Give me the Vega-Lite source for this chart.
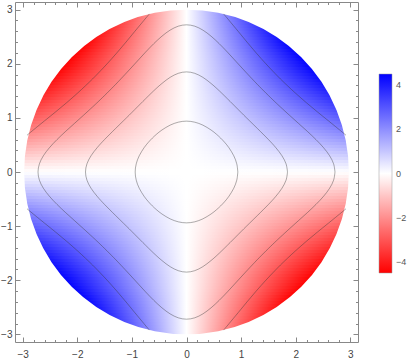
{
"$schema":"https://vega.github.io/schema/vega-lite/v6.json",
"width":343,"height":340,
"autosize":{"type":"none"},
"padding":{"left":15,"top":2,"right":59,"bottom":21},
"background":"white",
"config":{"view":{"stroke":null},"axis":{"domainColor":"#888888","tickColor":"#888888","labelColor":"#444444","labelFont":"Liberation Sans","labelFontSize":10,"grid":false,"labelOverlap":false,"labelFlush":false,"zindex":2,"domainWidth":1,"tickWidth":1}},
"datasets":{
"mask":[{"t":1,"ri":3,"ro":4.7}],
"legendvals":[{"v":-4.5},{"v":4.5}],
"q1":[
{"a":0,"b":0.05544,"e":3,"v":0.0832},{"a":0.05544,"b":0.11088,"e":2.99949,"v":0.2494},{"a":0.11088,"b":0.16632,"e":2.99795,"v":0.4155},{"a":0.16632,"b":0.22176,"e":2.99539,"v":0.5812},{"a":0.22176,"b":0.2772,"e":2.99179,"v":0.7464},{"a":0.2772,"b":0.33264,"e":2.98717,"v":0.9109},{"a":0.33264,"b":0.38808,"e":2.9815,"v":1.0744},{"a":0.38808,"b":0.44352,"e":2.97479,"v":1.2369},{"a":0.44352,"b":0.49896,"e":2.96703,"v":1.3982},{"a":0.49896,"b":0.5544,"e":2.95822,"v":1.558},{"a":0.5544,"b":0.60984,"e":2.94833,"v":1.7163},{"a":0.60984,"b":0.66528,"e":2.93736,"v":1.8727},{"a":0.66528,"b":0.72072,"e":2.9253,"v":2.0272},{"a":0.72072,"b":0.77616,"e":2.91214,"v":2.1796},{"a":0.77616,"b":0.8316,"e":2.89786,"v":2.3295},{"a":0.8316,"b":0.88704,"e":2.88244,"v":2.477},{"a":0.88704,"b":0.94248,"e":2.86586,"v":2.6216},{"a":0.94248,"b":0.99792,"e":2.84811,"v":2.7632},{"a":0.99792,"b":1.05336,"e":2.82916,"v":2.9017},{"a":1.05336,"b":1.1088,"e":2.80899,"v":3.0368},{"a":1.1088,"b":1.16424,"e":2.78757,"v":3.1681},{"a":1.16424,"b":1.21968,"e":2.76488,"v":3.2956},{"a":1.21968,"b":1.27512,"e":2.74087,"v":3.419},{"a":1.27512,"b":1.33056,"e":2.71553,"v":3.5379},{"a":1.33056,"b":1.386,"e":2.68879,"v":3.6521},{"a":1.386,"b":1.44144,"e":2.66064,"v":3.7614},{"a":1.44144,"b":1.49688,"e":2.63102,"v":3.8654},{"a":1.49688,"b":1.55232,"e":2.59987,"v":3.9638},{"a":1.55232,"b":1.60776,"e":2.56716,"v":4.0562},{"a":1.60776,"b":1.6632,"e":2.53281,"v":4.1424},{"a":1.6632,"b":1.71864,"e":2.49675,"v":4.2218},{"a":1.71864,"b":1.77408,"e":2.45892,"v":4.2942},{"a":1.77408,"b":1.82952,"e":2.41922,"v":4.359},{"a":1.82952,"b":1.88496,"e":2.37757,"v":4.4157},{"a":1.88496,"b":1.9404,"e":2.33386,"v":4.4639},{"a":1.9404,"b":1.99584,"e":2.28798,"v":4.503},{"a":1.99584,"b":2.05128,"e":2.23978,"v":4.5323},{"a":2.05128,"b":2.10672,"e":2.18912,"v":4.5512},{"a":2.10672,"b":2.16216,"e":2.13582,"v":4.5588},{"a":2.16216,"b":2.2176,"e":2.07968,"v":4.5543},{"a":2.2176,"b":2.27304,"e":2.02046,"v":4.5366},{"a":2.27304,"b":2.32848,"e":1.95788,"v":4.5046},{"a":2.32848,"b":2.38392,"e":1.89161,"v":4.457},{"a":2.38392,"b":2.43936,"e":1.82124,"v":4.3922},{"a":2.43936,"b":2.4948,"e":1.74629,"v":4.3082},{"a":2.4948,"b":2.55024,"e":1.66613,"v":4.2028},{"a":2.55024,"b":2.60568,"e":1.57996,"v":4.0731},{"a":2.60568,"b":2.66112,"e":1.48675,"v":3.9152},{"a":2.66112,"b":2.71656,"e":1.38508,"v":3.7243},{"a":2.71656,"b":2.772,"e":1.27291,"v":3.4932},{"a":2.772,"b":2.82744,"e":1.14718,"v":3.2118},{"a":2.82744,"b":2.88288,"e":1.00279,"v":2.8631},{"a":2.88288,"b":2.93832,"e":0.83006,"v":2.416},{"a":2.93832,"b":2.99376,"e":0.60521,"v":1.7951},{"a":2.99376,"b":3.0492,"e":0.19339,"v":0.5843}
],
"q2":[
{"a":0,"b":0.05544,"e":-3,"v":0.0832},{"a":0.05544,"b":0.11088,"e":-2.99949,"v":0.2494},{"a":0.11088,"b":0.16632,"e":-2.99795,"v":0.4155},{"a":0.16632,"b":0.22176,"e":-2.99539,"v":0.5812},{"a":0.22176,"b":0.2772,"e":-2.99179,"v":0.7464},{"a":0.2772,"b":0.33264,"e":-2.98717,"v":0.9109},{"a":0.33264,"b":0.38808,"e":-2.9815,"v":1.0744},{"a":0.38808,"b":0.44352,"e":-2.97479,"v":1.2369},{"a":0.44352,"b":0.49896,"e":-2.96703,"v":1.3982},{"a":0.49896,"b":0.5544,"e":-2.95822,"v":1.558},{"a":0.5544,"b":0.60984,"e":-2.94833,"v":1.7163},{"a":0.60984,"b":0.66528,"e":-2.93736,"v":1.8727},{"a":0.66528,"b":0.72072,"e":-2.9253,"v":2.0272},{"a":0.72072,"b":0.77616,"e":-2.91214,"v":2.1796},{"a":0.77616,"b":0.8316,"e":-2.89786,"v":2.3295},{"a":0.8316,"b":0.88704,"e":-2.88244,"v":2.477},{"a":0.88704,"b":0.94248,"e":-2.86586,"v":2.6216},{"a":0.94248,"b":0.99792,"e":-2.84811,"v":2.7632},{"a":0.99792,"b":1.05336,"e":-2.82916,"v":2.9017},{"a":1.05336,"b":1.1088,"e":-2.80899,"v":3.0368},{"a":1.1088,"b":1.16424,"e":-2.78757,"v":3.1681},{"a":1.16424,"b":1.21968,"e":-2.76488,"v":3.2956},{"a":1.21968,"b":1.27512,"e":-2.74087,"v":3.419},{"a":1.27512,"b":1.33056,"e":-2.71553,"v":3.5379},{"a":1.33056,"b":1.386,"e":-2.68879,"v":3.6521},{"a":1.386,"b":1.44144,"e":-2.66064,"v":3.7614},{"a":1.44144,"b":1.49688,"e":-2.63102,"v":3.8654},{"a":1.49688,"b":1.55232,"e":-2.59987,"v":3.9638},{"a":1.55232,"b":1.60776,"e":-2.56716,"v":4.0562},{"a":1.60776,"b":1.6632,"e":-2.53281,"v":4.1424},{"a":1.6632,"b":1.71864,"e":-2.49675,"v":4.2218},{"a":1.71864,"b":1.77408,"e":-2.45892,"v":4.2942},{"a":1.77408,"b":1.82952,"e":-2.41922,"v":4.359},{"a":1.82952,"b":1.88496,"e":-2.37757,"v":4.4157},{"a":1.88496,"b":1.9404,"e":-2.33386,"v":4.4639},{"a":1.9404,"b":1.99584,"e":-2.28798,"v":4.503},{"a":1.99584,"b":2.05128,"e":-2.23978,"v":4.5323},{"a":2.05128,"b":2.10672,"e":-2.18912,"v":4.5512},{"a":2.10672,"b":2.16216,"e":-2.13582,"v":4.5588},{"a":2.16216,"b":2.2176,"e":-2.07968,"v":4.5543},{"a":2.2176,"b":2.27304,"e":-2.02046,"v":4.5366},{"a":2.27304,"b":2.32848,"e":-1.95788,"v":4.5046},{"a":2.32848,"b":2.38392,"e":-1.89161,"v":4.457},{"a":2.38392,"b":2.43936,"e":-1.82124,"v":4.3922},{"a":2.43936,"b":2.4948,"e":-1.74629,"v":4.3082},{"a":2.4948,"b":2.55024,"e":-1.66613,"v":4.2028},{"a":2.55024,"b":2.60568,"e":-1.57996,"v":4.0731},{"a":2.60568,"b":2.66112,"e":-1.48675,"v":3.9152},{"a":2.66112,"b":2.71656,"e":-1.38508,"v":3.7243},{"a":2.71656,"b":2.772,"e":-1.27291,"v":3.4932},{"a":2.772,"b":2.82744,"e":-1.14718,"v":3.2118},{"a":2.82744,"b":2.88288,"e":-1.00279,"v":2.8631},{"a":2.88288,"b":2.93832,"e":-0.83006,"v":2.416},{"a":2.93832,"b":2.99376,"e":-0.60521,"v":1.7951},{"a":2.99376,"b":3.0492,"e":-0.19339,"v":0.5843}
],
"q3":[
{"a":0,"b":-0.05544,"e":-3,"v":0.0832},{"a":-0.05544,"b":-0.11088,"e":-2.99949,"v":0.2494},{"a":-0.11088,"b":-0.16632,"e":-2.99795,"v":0.4155},{"a":-0.16632,"b":-0.22176,"e":-2.99539,"v":0.5812},{"a":-0.22176,"b":-0.2772,"e":-2.99179,"v":0.7464},{"a":-0.2772,"b":-0.33264,"e":-2.98717,"v":0.9109},{"a":-0.33264,"b":-0.38808,"e":-2.9815,"v":1.0744},{"a":-0.38808,"b":-0.44352,"e":-2.97479,"v":1.2369},{"a":-0.44352,"b":-0.49896,"e":-2.96703,"v":1.3982},{"a":-0.49896,"b":-0.5544,"e":-2.95822,"v":1.558},{"a":-0.5544,"b":-0.60984,"e":-2.94833,"v":1.7163},{"a":-0.60984,"b":-0.66528,"e":-2.93736,"v":1.8727},{"a":-0.66528,"b":-0.72072,"e":-2.9253,"v":2.0272},{"a":-0.72072,"b":-0.77616,"e":-2.91214,"v":2.1796},{"a":-0.77616,"b":-0.8316,"e":-2.89786,"v":2.3295},{"a":-0.8316,"b":-0.88704,"e":-2.88244,"v":2.477},{"a":-0.88704,"b":-0.94248,"e":-2.86586,"v":2.6216},{"a":-0.94248,"b":-0.99792,"e":-2.84811,"v":2.7632},{"a":-0.99792,"b":-1.05336,"e":-2.82916,"v":2.9017},{"a":-1.05336,"b":-1.1088,"e":-2.80899,"v":3.0368},{"a":-1.1088,"b":-1.16424,"e":-2.78757,"v":3.1681},{"a":-1.16424,"b":-1.21968,"e":-2.76488,"v":3.2956},{"a":-1.21968,"b":-1.27512,"e":-2.74087,"v":3.419},{"a":-1.27512,"b":-1.33056,"e":-2.71553,"v":3.5379},{"a":-1.33056,"b":-1.386,"e":-2.68879,"v":3.6521},{"a":-1.386,"b":-1.44144,"e":-2.66064,"v":3.7614},{"a":-1.44144,"b":-1.49688,"e":-2.63102,"v":3.8654},{"a":-1.49688,"b":-1.55232,"e":-2.59987,"v":3.9638},{"a":-1.55232,"b":-1.60776,"e":-2.56716,"v":4.0562},{"a":-1.60776,"b":-1.6632,"e":-2.53281,"v":4.1424},{"a":-1.6632,"b":-1.71864,"e":-2.49675,"v":4.2218},{"a":-1.71864,"b":-1.77408,"e":-2.45892,"v":4.2942},{"a":-1.77408,"b":-1.82952,"e":-2.41922,"v":4.359},{"a":-1.82952,"b":-1.88496,"e":-2.37757,"v":4.4157},{"a":-1.88496,"b":-1.9404,"e":-2.33386,"v":4.4639},{"a":-1.9404,"b":-1.99584,"e":-2.28798,"v":4.503},{"a":-1.99584,"b":-2.05128,"e":-2.23978,"v":4.5323},{"a":-2.05128,"b":-2.10672,"e":-2.18912,"v":4.5512},{"a":-2.10672,"b":-2.16216,"e":-2.13582,"v":4.5588},{"a":-2.16216,"b":-2.2176,"e":-2.07968,"v":4.5543},{"a":-2.2176,"b":-2.27304,"e":-2.02046,"v":4.5366},{"a":-2.27304,"b":-2.32848,"e":-1.95788,"v":4.5046},{"a":-2.32848,"b":-2.38392,"e":-1.89161,"v":4.457},{"a":-2.38392,"b":-2.43936,"e":-1.82124,"v":4.3922},{"a":-2.43936,"b":-2.4948,"e":-1.74629,"v":4.3082},{"a":-2.4948,"b":-2.55024,"e":-1.66613,"v":4.2028},{"a":-2.55024,"b":-2.60568,"e":-1.57996,"v":4.0731},{"a":-2.60568,"b":-2.66112,"e":-1.48675,"v":3.9152},{"a":-2.66112,"b":-2.71656,"e":-1.38508,"v":3.7243},{"a":-2.71656,"b":-2.772,"e":-1.27291,"v":3.4932},{"a":-2.772,"b":-2.82744,"e":-1.14718,"v":3.2118},{"a":-2.82744,"b":-2.88288,"e":-1.00279,"v":2.8631},{"a":-2.88288,"b":-2.93832,"e":-0.83006,"v":2.416},{"a":-2.93832,"b":-2.99376,"e":-0.60521,"v":1.7951},{"a":-2.99376,"b":-3.0492,"e":-0.19339,"v":0.5843}
],
"q4":[
{"a":0,"b":-0.05544,"e":3,"v":0.0832},{"a":-0.05544,"b":-0.11088,"e":2.99949,"v":0.2494},{"a":-0.11088,"b":-0.16632,"e":2.99795,"v":0.4155},{"a":-0.16632,"b":-0.22176,"e":2.99539,"v":0.5812},{"a":-0.22176,"b":-0.2772,"e":2.99179,"v":0.7464},{"a":-0.2772,"b":-0.33264,"e":2.98717,"v":0.9109},{"a":-0.33264,"b":-0.38808,"e":2.9815,"v":1.0744},{"a":-0.38808,"b":-0.44352,"e":2.97479,"v":1.2369},{"a":-0.44352,"b":-0.49896,"e":2.96703,"v":1.3982},{"a":-0.49896,"b":-0.5544,"e":2.95822,"v":1.558},{"a":-0.5544,"b":-0.60984,"e":2.94833,"v":1.7163},{"a":-0.60984,"b":-0.66528,"e":2.93736,"v":1.8727},{"a":-0.66528,"b":-0.72072,"e":2.9253,"v":2.0272},{"a":-0.72072,"b":-0.77616,"e":2.91214,"v":2.1796},{"a":-0.77616,"b":-0.8316,"e":2.89786,"v":2.3295},{"a":-0.8316,"b":-0.88704,"e":2.88244,"v":2.477},{"a":-0.88704,"b":-0.94248,"e":2.86586,"v":2.6216},{"a":-0.94248,"b":-0.99792,"e":2.84811,"v":2.7632},{"a":-0.99792,"b":-1.05336,"e":2.82916,"v":2.9017},{"a":-1.05336,"b":-1.1088,"e":2.80899,"v":3.0368},{"a":-1.1088,"b":-1.16424,"e":2.78757,"v":3.1681},{"a":-1.16424,"b":-1.21968,"e":2.76488,"v":3.2956},{"a":-1.21968,"b":-1.27512,"e":2.74087,"v":3.419},{"a":-1.27512,"b":-1.33056,"e":2.71553,"v":3.5379},{"a":-1.33056,"b":-1.386,"e":2.68879,"v":3.6521},{"a":-1.386,"b":-1.44144,"e":2.66064,"v":3.7614},{"a":-1.44144,"b":-1.49688,"e":2.63102,"v":3.8654},{"a":-1.49688,"b":-1.55232,"e":2.59987,"v":3.9638},{"a":-1.55232,"b":-1.60776,"e":2.56716,"v":4.0562},{"a":-1.60776,"b":-1.6632,"e":2.53281,"v":4.1424},{"a":-1.6632,"b":-1.71864,"e":2.49675,"v":4.2218},{"a":-1.71864,"b":-1.77408,"e":2.45892,"v":4.2942},{"a":-1.77408,"b":-1.82952,"e":2.41922,"v":4.359},{"a":-1.82952,"b":-1.88496,"e":2.37757,"v":4.4157},{"a":-1.88496,"b":-1.9404,"e":2.33386,"v":4.4639},{"a":-1.9404,"b":-1.99584,"e":2.28798,"v":4.503},{"a":-1.99584,"b":-2.05128,"e":2.23978,"v":4.5323},{"a":-2.05128,"b":-2.10672,"e":2.18912,"v":4.5512},{"a":-2.10672,"b":-2.16216,"e":2.13582,"v":4.5588},{"a":-2.16216,"b":-2.2176,"e":2.07968,"v":4.5543},{"a":-2.2176,"b":-2.27304,"e":2.02046,"v":4.5366},{"a":-2.27304,"b":-2.32848,"e":1.95788,"v":4.5046},{"a":-2.32848,"b":-2.38392,"e":1.89161,"v":4.457},{"a":-2.38392,"b":-2.43936,"e":1.82124,"v":4.3922},{"a":-2.43936,"b":-2.4948,"e":1.74629,"v":4.3082},{"a":-2.4948,"b":-2.55024,"e":1.66613,"v":4.2028},{"a":-2.55024,"b":-2.60568,"e":1.57996,"v":4.0731},{"a":-2.60568,"b":-2.66112,"e":1.48675,"v":3.9152},{"a":-2.66112,"b":-2.71656,"e":1.38508,"v":3.7243},{"a":-2.71656,"b":-2.772,"e":1.27291,"v":3.4932},{"a":-2.772,"b":-2.82744,"e":1.14718,"v":3.2118},{"a":-2.82744,"b":-2.88288,"e":1.00279,"v":2.8631},{"a":-2.88288,"b":-2.93832,"e":0.83006,"v":2.416},{"a":-2.93832,"b":-2.99376,"e":0.60521,"v":1.7951},{"a":-2.99376,"b":-3.0492,"e":0.19339,"v":0.5843}
],
"contours":[
{"c":"a","o":0,"x":0.94,"y":0},{"c":"a","o":1,"x":0.921,"y":0.15},{"c":"a","o":2,"x":0.866,"y":0.3},{"c":"a","o":3,"x":0.776,"y":0.45},{"c":"a","o":4,"x":0.697,"y":0.55},{"c":"a","o":5,"x":0.626,"y":0.626},{"c":"a","o":6,"x":0.55,"y":0.697},{"c":"a","o":7,"x":0.45,"y":0.776},{"c":"a","o":8,"x":0.3,"y":0.866},{"c":"a","o":9,"x":0.15,"y":0.921},{"c":"a","o":10,"x":0,"y":0.94},
{"c":"a","o":11,"x":-0.15,"y":0.921},{"c":"a","o":12,"x":-0.3,"y":0.866},{"c":"a","o":13,"x":-0.45,"y":0.776},{"c":"a","o":14,"x":-0.55,"y":0.697},{"c":"a","o":15,"x":-0.626,"y":0.626},{"c":"a","o":16,"x":-0.697,"y":0.55},{"c":"a","o":17,"x":-0.776,"y":0.45},{"c":"a","o":18,"x":-0.866,"y":0.3},{"c":"a","o":19,"x":-0.921,"y":0.15},{"c":"a","o":20,"x":-0.94,"y":0},
{"c":"a","o":21,"x":-0.921,"y":-0.15},{"c":"a","o":22,"x":-0.866,"y":-0.3},{"c":"a","o":23,"x":-0.776,"y":-0.45},{"c":"a","o":24,"x":-0.697,"y":-0.55},{"c":"a","o":25,"x":-0.626,"y":-0.626},{"c":"a","o":26,"x":-0.55,"y":-0.697},{"c":"a","o":27,"x":-0.45,"y":-0.776},{"c":"a","o":28,"x":-0.3,"y":-0.866},{"c":"a","o":29,"x":-0.15,"y":-0.921},{"c":"a","o":30,"x":0,"y":-0.94},
{"c":"a","o":31,"x":0.15,"y":-0.921},{"c":"a","o":32,"x":0.3,"y":-0.866},{"c":"a","o":33,"x":0.45,"y":-0.776},{"c":"a","o":34,"x":0.55,"y":-0.697},{"c":"a","o":35,"x":0.626,"y":-0.626},{"c":"a","o":36,"x":0.697,"y":-0.55},{"c":"a","o":37,"x":0.776,"y":-0.45},{"c":"a","o":38,"x":0.866,"y":-0.3},{"c":"a","o":39,"x":0.921,"y":-0.15},{"c":"a","o":40,"x":0.94,"y":0},
{"c":"b","o":0,"x":1.85,"y":0},{"c":"b","o":1,"x":1.824,"y":0.15},{"c":"b","o":2,"x":1.749,"y":0.3},{"c":"b","o":3,"x":1.636,"y":0.45},{"c":"b","o":4,"x":1.501,"y":0.6},{"c":"b","o":5,"x":1.303,"y":0.8},{"c":"b","o":6,"x":1.151,"y":0.95},{"c":"b","o":7,"x":1.05,"y":1.05},{"c":"b","o":8,"x":0.95,"y":1.151},{"c":"b","o":9,"x":0.8,"y":1.303},{"c":"b","o":10,"x":0.6,"y":1.501},{"c":"b","o":11,"x":0.45,"y":1.636},{"c":"b","o":12,"x":0.3,"y":1.749},{"c":"b","o":13,"x":0.15,"y":1.824},{"c":"b","o":14,"x":0,"y":1.85},
{"c":"b","o":15,"x":-0.15,"y":1.824},{"c":"b","o":16,"x":-0.3,"y":1.749},{"c":"b","o":17,"x":-0.45,"y":1.636},{"c":"b","o":18,"x":-0.6,"y":1.501},{"c":"b","o":19,"x":-0.8,"y":1.303},{"c":"b","o":20,"x":-0.95,"y":1.151},{"c":"b","o":21,"x":-1.05,"y":1.05},{"c":"b","o":22,"x":-1.151,"y":0.95},{"c":"b","o":23,"x":-1.303,"y":0.8},{"c":"b","o":24,"x":-1.501,"y":0.6},{"c":"b","o":25,"x":-1.636,"y":0.45},{"c":"b","o":26,"x":-1.749,"y":0.3},{"c":"b","o":27,"x":-1.824,"y":0.15},{"c":"b","o":28,"x":-1.85,"y":0},
{"c":"b","o":29,"x":-1.824,"y":-0.15},{"c":"b","o":30,"x":-1.749,"y":-0.3},{"c":"b","o":31,"x":-1.636,"y":-0.45},{"c":"b","o":32,"x":-1.501,"y":-0.6},{"c":"b","o":33,"x":-1.303,"y":-0.8},{"c":"b","o":34,"x":-1.151,"y":-0.95},{"c":"b","o":35,"x":-1.05,"y":-1.05},{"c":"b","o":36,"x":-0.95,"y":-1.151},{"c":"b","o":37,"x":-0.8,"y":-1.303},{"c":"b","o":38,"x":-0.6,"y":-1.501},{"c":"b","o":39,"x":-0.45,"y":-1.636},{"c":"b","o":40,"x":-0.3,"y":-1.749},{"c":"b","o":41,"x":-0.15,"y":-1.824},{"c":"b","o":42,"x":0,"y":-1.85},
{"c":"b","o":43,"x":0.15,"y":-1.824},{"c":"b","o":44,"x":0.3,"y":-1.749},{"c":"b","o":45,"x":0.45,"y":-1.636},{"c":"b","o":46,"x":0.6,"y":-1.501},{"c":"b","o":47,"x":0.8,"y":-1.303},{"c":"b","o":48,"x":0.95,"y":-1.151},{"c":"b","o":49,"x":1.05,"y":-1.05},{"c":"b","o":50,"x":1.151,"y":-0.95},{"c":"b","o":51,"x":1.303,"y":-0.8},{"c":"b","o":52,"x":1.501,"y":-0.6},{"c":"b","o":53,"x":1.636,"y":-0.45},{"c":"b","o":54,"x":1.749,"y":-0.3},{"c":"b","o":55,"x":1.824,"y":-0.15},{"c":"b","o":56,"x":1.85,"y":0},
{"c":"d","o":0,"x":2.72,"y":0},{"c":"d","o":1,"x":2.695,"y":0.15},{"c":"d","o":2,"x":2.622,"y":0.3},{"c":"d","o":3,"x":2.51,"y":0.45},{"c":"d","o":4,"x":2.371,"y":0.6},{"c":"d","o":5,"x":2.215,"y":0.75},{"c":"d","o":6,"x":2.05,"y":0.9},{"c":"d","o":7,"x":1.885,"y":1.05},{"c":"d","o":8,"x":1.723,"y":1.2},{"c":"d","o":9,"x":1.617,"y":1.3},{"c":"d","o":10,"x":1.457,"y":1.457},{"c":"d","o":11,"x":1.3,"y":1.617},{"c":"d","o":12,"x":1.2,"y":1.723},{"c":"d","o":13,"x":1.05,"y":1.885},{"c":"d","o":14,"x":0.9,"y":2.05},{"c":"d","o":15,"x":0.75,"y":2.215},{"c":"d","o":16,"x":0.6,"y":2.371},{"c":"d","o":17,"x":0.45,"y":2.51},{"c":"d","o":18,"x":0.3,"y":2.622},{"c":"d","o":19,"x":0.15,"y":2.695},{"c":"d","o":20,"x":0,"y":2.72},
{"c":"d","o":21,"x":-0.15,"y":2.695},{"c":"d","o":22,"x":-0.3,"y":2.622},{"c":"d","o":23,"x":-0.45,"y":2.51},{"c":"d","o":24,"x":-0.6,"y":2.371},{"c":"d","o":25,"x":-0.75,"y":2.215},{"c":"d","o":26,"x":-0.9,"y":2.05},{"c":"d","o":27,"x":-1.05,"y":1.885},{"c":"d","o":28,"x":-1.2,"y":1.723},{"c":"d","o":29,"x":-1.3,"y":1.617},{"c":"d","o":30,"x":-1.457,"y":1.457},{"c":"d","o":31,"x":-1.617,"y":1.3},{"c":"d","o":32,"x":-1.723,"y":1.2},{"c":"d","o":33,"x":-1.885,"y":1.05},{"c":"d","o":34,"x":-2.05,"y":0.9},{"c":"d","o":35,"x":-2.215,"y":0.75},{"c":"d","o":36,"x":-2.371,"y":0.6},{"c":"d","o":37,"x":-2.51,"y":0.45},{"c":"d","o":38,"x":-2.622,"y":0.3},{"c":"d","o":39,"x":-2.695,"y":0.15},{"c":"d","o":40,"x":-2.72,"y":0},
{"c":"d","o":41,"x":-2.695,"y":-0.15},{"c":"d","o":42,"x":-2.622,"y":-0.3},{"c":"d","o":43,"x":-2.51,"y":-0.45},{"c":"d","o":44,"x":-2.371,"y":-0.6},{"c":"d","o":45,"x":-2.215,"y":-0.75},{"c":"d","o":46,"x":-2.05,"y":-0.9},{"c":"d","o":47,"x":-1.885,"y":-1.05},{"c":"d","o":48,"x":-1.723,"y":-1.2},{"c":"d","o":49,"x":-1.617,"y":-1.3},{"c":"d","o":50,"x":-1.457,"y":-1.457},{"c":"d","o":51,"x":-1.3,"y":-1.617},{"c":"d","o":52,"x":-1.2,"y":-1.723},{"c":"d","o":53,"x":-1.05,"y":-1.885},{"c":"d","o":54,"x":-0.9,"y":-2.05},{"c":"d","o":55,"x":-0.75,"y":-2.215},{"c":"d","o":56,"x":-0.6,"y":-2.371},{"c":"d","o":57,"x":-0.45,"y":-2.51},{"c":"d","o":58,"x":-0.3,"y":-2.622},{"c":"d","o":59,"x":-0.15,"y":-2.695},{"c":"d","o":60,"x":0,"y":-2.72},
{"c":"d","o":61,"x":0.15,"y":-2.695},{"c":"d","o":62,"x":0.3,"y":-2.622},{"c":"d","o":63,"x":0.45,"y":-2.51},{"c":"d","o":64,"x":0.6,"y":-2.371},{"c":"d","o":65,"x":0.75,"y":-2.215},{"c":"d","o":66,"x":0.9,"y":-2.05},{"c":"d","o":67,"x":1.05,"y":-1.885},{"c":"d","o":68,"x":1.2,"y":-1.723},{"c":"d","o":69,"x":1.3,"y":-1.617},{"c":"d","o":70,"x":1.457,"y":-1.457},{"c":"d","o":71,"x":1.617,"y":-1.3},{"c":"d","o":72,"x":1.723,"y":-1.2},{"c":"d","o":73,"x":1.885,"y":-1.05},{"c":"d","o":74,"x":2.05,"y":-0.9},{"c":"d","o":75,"x":2.215,"y":-0.75},{"c":"d","o":76,"x":2.371,"y":-0.6},{"c":"d","o":77,"x":2.51,"y":-0.45},{"c":"d","o":78,"x":2.622,"y":-0.3},{"c":"d","o":79,"x":2.695,"y":-0.15},{"c":"d","o":80,"x":2.72,"y":0},
{"c":"e1","o":0,"x":2.922,"y":0.679},{"c":"e1","o":1,"x":2.85,"y":0.74},{"c":"e1","o":2,"x":2.6,"y":0.946},{"c":"e1","o":3,"x":2.4,"y":1.109},{"c":"e1","o":4,"x":2.2,"y":1.277},{"c":"e1","o":5,"x":2.0,"y":1.454},{"c":"e1","o":6,"x":1.85,"y":1.594},{"c":"e1","o":7,"x":1.72,"y":1.72},{"c":"e1","o":8,"x":1.594,"y":1.85},{"c":"e1","o":9,"x":1.454,"y":2.0},{"c":"e1","o":10,"x":1.277,"y":2.2},{"c":"e1","o":11,"x":1.109,"y":2.4},{"c":"e1","o":12,"x":0.946,"y":2.6},{"c":"e1","o":13,"x":0.74,"y":2.85},{"c":"e1","o":14,"x":0.679,"y":2.922},
{"c":"e2","o":0,"x":-2.922,"y":0.679},{"c":"e2","o":1,"x":-2.85,"y":0.74},{"c":"e2","o":2,"x":-2.6,"y":0.946},{"c":"e2","o":3,"x":-2.4,"y":1.109},{"c":"e2","o":4,"x":-2.2,"y":1.277},{"c":"e2","o":5,"x":-2.0,"y":1.454},{"c":"e2","o":6,"x":-1.85,"y":1.594},{"c":"e2","o":7,"x":-1.72,"y":1.72},{"c":"e2","o":8,"x":-1.594,"y":1.85},{"c":"e2","o":9,"x":-1.454,"y":2.0},{"c":"e2","o":10,"x":-1.277,"y":2.2},{"c":"e2","o":11,"x":-1.109,"y":2.4},{"c":"e2","o":12,"x":-0.946,"y":2.6},{"c":"e2","o":13,"x":-0.74,"y":2.85},{"c":"e2","o":14,"x":-0.679,"y":2.922},
{"c":"e3","o":0,"x":-2.922,"y":-0.679},{"c":"e3","o":1,"x":-2.85,"y":-0.74},{"c":"e3","o":2,"x":-2.6,"y":-0.946},{"c":"e3","o":3,"x":-2.4,"y":-1.109},{"c":"e3","o":4,"x":-2.2,"y":-1.277},{"c":"e3","o":5,"x":-2.0,"y":-1.454},{"c":"e3","o":6,"x":-1.85,"y":-1.594},{"c":"e3","o":7,"x":-1.72,"y":-1.72},{"c":"e3","o":8,"x":-1.594,"y":-1.85},{"c":"e3","o":9,"x":-1.454,"y":-2.0},{"c":"e3","o":10,"x":-1.277,"y":-2.2},{"c":"e3","o":11,"x":-1.109,"y":-2.4},{"c":"e3","o":12,"x":-0.946,"y":-2.6},{"c":"e3","o":13,"x":-0.74,"y":-2.85},{"c":"e3","o":14,"x":-0.679,"y":-2.922},
{"c":"e4","o":0,"x":2.922,"y":-0.679},{"c":"e4","o":1,"x":2.85,"y":-0.74},{"c":"e4","o":2,"x":2.6,"y":-0.946},{"c":"e4","o":3,"x":2.4,"y":-1.109},{"c":"e4","o":4,"x":2.2,"y":-1.277},{"c":"e4","o":5,"x":2.0,"y":-1.454},{"c":"e4","o":6,"x":1.85,"y":-1.594},{"c":"e4","o":7,"x":1.72,"y":-1.72},{"c":"e4","o":8,"x":1.594,"y":-1.85},{"c":"e4","o":9,"x":1.454,"y":-2.0},{"c":"e4","o":10,"x":1.277,"y":-2.2},{"c":"e4","o":11,"x":1.109,"y":-2.4},{"c":"e4","o":12,"x":0.946,"y":-2.6},{"c":"e4","o":13,"x":0.74,"y":-2.85},{"c":"e4","o":14,"x":0.679,"y":-2.922}
]
},
"layer":[
{
"data":{"name":"q1"},
"mark":{"type":"rect","clip":true,"strokeWidth":0,"fill":{"gradient":"linear","x1":0,"y1":0,"x2":1,"y2":0,"stops":[{"offset":0,"color":"rgba(0,0,255,0)"},{"offset":1,"color":"rgba(0,0,255,1)"}]}},
"encoding":{
"x":{"field":"e","type":"quantitative","title":null,"scale":{"domain":[-3.14159,3.14159],"nice":false,"zero":false},
"axis":{"orient":"bottom","zindex":2,"values":[-3,-2.8,-2.6,-2.4,-2.2,-2,-1.8,-1.6,-1.4,-1.2,-1,-0.8,-0.6,-0.4,-0.2,0,0.2,0.4,0.6,0.8,1,1.2,1.4,1.6,1.8,2,2.2,2.4,2.6,2.8,3],
"labelExpr":"abs(datum.value-round(datum.value))<0.01 ? format(datum.value,'d') : ''",
"tickSize":{"condition":{"test":"abs(datum.value-round(datum.value))<0.01","value":-5},"value":-2.5},"labelPadding":12}},
"x2":{"datum":0},
"y":{"field":"a","type":"quantitative","title":null,"scale":{"domain":[-3.14159,3.14159],"nice":false,"zero":false},
"axis":{"orient":"left","zindex":2,"values":[-3,-2.8,-2.6,-2.4,-2.2,-2,-1.8,-1.6,-1.4,-1.2,-1,-0.8,-0.6,-0.4,-0.2,0,0.2,0.4,0.6,0.8,1,1.2,1.4,1.6,1.8,2,2.2,2.4,2.6,2.8,3],
"labelExpr":"abs(datum.value-round(datum.value))<0.01 ? format(datum.value,'d') : ''",
"tickSize":{"condition":{"test":"abs(datum.value-round(datum.value))<0.01","value":-5},"value":-2.5},"labelPadding":8}},
"y2":{"field":"b"},
"opacity":{"field":"v","type":"quantitative","scale":{"type":"linear","domain":[0,4.5],"range":[0,1],"clamp":true},"legend":null}
}
},
{
"data":{"name":"q4"},
"mark":{"type":"rect","clip":true,"strokeWidth":0,"fill":{"gradient":"linear","x1":0,"y1":0,"x2":1,"y2":0,"stops":[{"offset":0,"color":"rgba(255,0,0,0)"},{"offset":1,"color":"rgba(255,0,0,1)"}]}},
"encoding":{
"x":{"field":"e","type":"quantitative","title":null,
"axis":{"orient":"top","zindex":2,"labels":false,"values":[-3,-2.8,-2.6,-2.4,-2.2,-2,-1.8,-1.6,-1.4,-1.2,-1,-0.8,-0.6,-0.4,-0.2,0,0.2,0.4,0.6,0.8,1,1.2,1.4,1.6,1.8,2,2.2,2.4,2.6,2.8,3],
"tickSize":{"condition":{"test":"abs(datum.value-round(datum.value))<0.01","value":-5},"value":-2.5}}},
"x2":{"datum":0},
"y":{"field":"a","type":"quantitative","title":null,
"axis":{"orient":"right","zindex":2,"labels":false,"values":[-3,-2.8,-2.6,-2.4,-2.2,-2,-1.8,-1.6,-1.4,-1.2,-1,-0.8,-0.6,-0.4,-0.2,0,0.2,0.4,0.6,0.8,1,1.2,1.4,1.6,1.8,2,2.2,2.4,2.6,2.8,3],
"tickSize":{"condition":{"test":"abs(datum.value-round(datum.value))<0.01","value":-5},"value":-2.5}}},
"y2":{"field":"b"},
"opacity":{"field":"v","type":"quantitative","legend":null}
}
},
{
"data":{"name":"q2"},
"mark":{"type":"rect","clip":true,"strokeWidth":0,"fill":{"gradient":"linear","x1":0,"y1":0,"x2":1,"y2":0,"stops":[{"offset":0,"color":"rgba(255,0,0,1)"},{"offset":1,"color":"rgba(255,0,0,0)"}]}},
"encoding":{
"x":{"field":"e","type":"quantitative","axis":null},
"x2":{"datum":0},
"y":{"field":"a","type":"quantitative","axis":null},
"y2":{"field":"b"},
"opacity":{"field":"v","type":"quantitative","legend":null}
}
},
{
"data":{"name":"q3"},
"mark":{"type":"rect","clip":true,"strokeWidth":0,"fill":{"gradient":"linear","x1":0,"y1":0,"x2":1,"y2":0,"stops":[{"offset":0,"color":"rgba(0,0,255,1)"},{"offset":1,"color":"rgba(0,0,255,0)"}]}},
"encoding":{
"x":{"field":"e","type":"quantitative","axis":null},
"x2":{"datum":0},
"y":{"field":"a","type":"quantitative","axis":null},
"y2":{"field":"b"},
"opacity":{"field":"v","type":"quantitative","legend":null}
}
},
{
"data":{"name":"mask"},
"mark":{"type":"arc","fill":"white","clip":true,"strokeWidth":0},
"encoding":{
"theta":{"field":"t","type":"quantitative","scale":{"domain":[0,1],"range":[0,6.2832]}},
"radius":{"field":"ro","type":"quantitative","scale":{"type":"linear","domain":[0,3.14159],"range":[0,170],"zero":true}},
"radius2":{"field":"ri"}
}
},
{
"data":{"name":"contours"},
"mark":{"type":"line","stroke":"#333333","strokeWidth":0.8,"opacity":0.5,"interpolate":"cardinal","clip":true},
"encoding":{
"x":{"field":"x","type":"quantitative","axis":null},
"y":{"field":"y","type":"quantitative","axis":null},
"detail":{"field":"c","type":"nominal"},
"order":{"field":"o","type":"quantitative"}
}
},
{
"data":{"name":"legendvals"},
"mark":{"type":"text","text":""},
"encoding":{
"color":{"field":"v","type":"quantitative","scale":{"domain":[-4.5,0,4.5],"range":["#ff0000","#ffffff","#0000ff"],"clamp":true,"interpolate":"rgb"},
"legend":{"orient":"none","legendX":364,"legendY":72,"direction":"vertical","gradientLength":199,"gradientThickness":13,"values":[-4,-2,0,2,4],"title":null,"labelFontSize":9,"labelColor":"#555555","labelFont":"Liberation Sans","labelOffset":4,"gradientStrokeColor":"#999999","gradientStrokeWidth":0.5,"padding":0}}
}
}
],
"resolve":{"axis":{"x":"independent","y":"independent"}}
}
